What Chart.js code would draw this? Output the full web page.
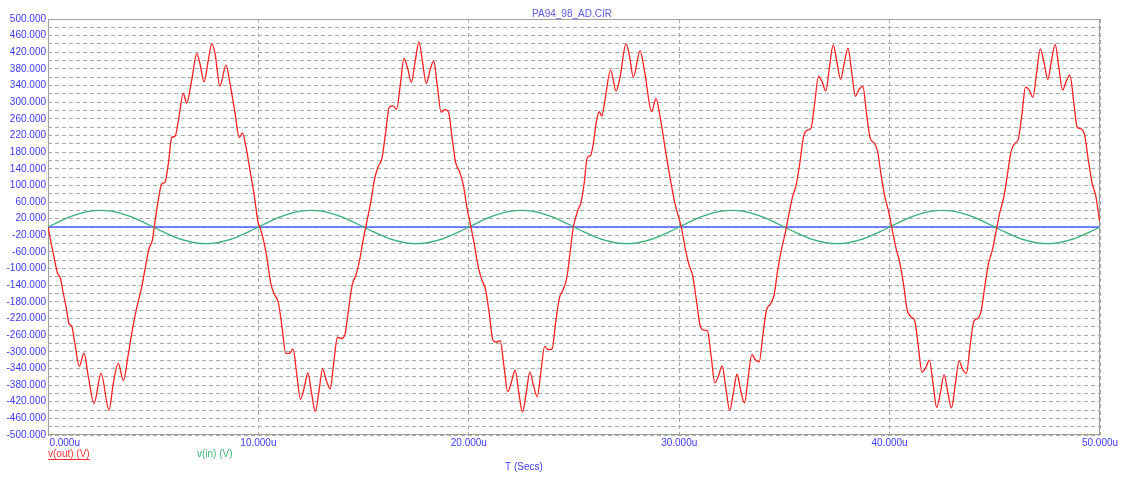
<!DOCTYPE html>
<html>
<head>
<meta charset="utf-8">
<title>PA94_98_AD.CIR</title>
<script src="https://cdn.jsdelivr.net/npm/chart.js@4.4.0/dist/chart.umd.min.js"></script>
<style>
  html, body { margin: 0; padding: 0; background: #fff; }
  canvas { display: block; }
</style>
</head>
<body>
<canvas id="chart" width="1124" height="477"></canvas>
<script>
// v(out): [time (us), volts], one array per 10us period
const vOut1 = [
  [0, 0], [0.25, -64], [0.46, -112], [0.57, -120], [0.73, -160], [0.89, -201], [1.00, -233], [1.12, -237],
  [1.28, -281], [1.49, -335], [1.71, -303], [1.92, -361], [2.19, -424], [2.52, -352], [2.90, -440], [3.10, -377],
  [3.34, -328], [3.58, -369], [3.82, -305], [4.06, -233], [4.26, -185], [4.45, -145], [4.69, -80], [4.80, -52],
  [4.96, -32], [5.05, 0], [5.24, 64], [5.40, 103], [5.56, 108], [5.72, 152], [5.88, 215], [6.04, 218],
  [6.20, 257], [6.43, 321], [6.59, 298], [6.83, 353], [7.07, 417], [7.22, 393], [7.42, 349], [7.62, 401],
  [7.78, 440], [7.94, 417], [8.17, 339], [8.46, 389], [8.65, 345], [8.89, 273], [9.09, 215], [9.24, 226],
  [9.44, 184], [9.60, 136], [9.79, 80], [9.99, 10]
];
const vOut2 = [
  [10.07, 0], [10.24, -31], [10.42, -79], [10.59, -136], [10.77, -163], [10.94, -180], [11.12, -239], [11.30, -304],
  [11.47, -304], [11.65, -293], [11.82, -353], [12.00, -414], [12.18, -386], [12.35, -351], [12.53, -400], [12.70, -444],
  [12.88, -394], [13.05, -341], [13.23, -369], [13.41, -389], [13.58, -326], [13.76, -265], [13.93, -268], [14.11, -259],
  [14.29, -196], [14.46, -139], [14.64, -115], [14.81, -80], [14.99, -28], [15.16, 14], [15.34, 60], [15.52, 115],
  [15.69, 145], [15.87, 165], [16.04, 224], [16.22, 288], [16.40, 291], [16.57, 283], [16.75, 344], [16.92, 405],
  [17.10, 380], [17.27, 348], [17.45, 398], [17.63, 445], [17.80, 397], [17.98, 345], [18.15, 376], [18.33, 399],
  [18.51, 337], [18.68, 276], [18.86, 282], [19.03, 277], [19.21, 213], [19.38, 154], [19.56, 133], [19.74, 101],
  [19.91, 47]
];
const vOut3 = [
  [20.09, 3], [20.26, -41], [20.44, -94], [20.62, -127], [20.79, -149], [20.97, -207], [21.14, -271], [21.32, -277],
  [21.49, -273], [21.67, -334], [21.85, -396], [22.02, -374], [22.20, -344], [22.37, -396], [22.55, -445], [22.73, -399],
  [22.90, -349], [23.08, -382], [23.25, -408], [23.43, -347], [23.60, -287], [23.78, -295], [23.96, -293], [24.13, -229],
  [24.31, -170], [24.48, -151], [24.66, -122], [24.84, -50], [24.97, 0], [25.21, 44], [25.32, 56], [25.48, 104],
  [25.63, 167], [25.79, 172], [25.92, 201], [26.08, 258], [26.21, 277], [26.32, 266], [26.47, 305], [26.74, 377],
  [27.00, 327], [27.19, 361], [27.47, 440], [27.63, 413], [27.82, 360], [28.14, 424], [28.37, 369], [28.69, 277],
  [28.90, 309], [29.09, 265], [29.40, 168], [29.80, 56]
];
const vOut4 = [
  [30.11, -2], [30.29, -52], [30.46, -90], [30.64, -117], [30.81, -173], [30.99, -236], [31.16, -248], [31.34, -249],
  [31.52, -311], [31.69, -374], [31.87, -358], [32.04, -334], [32.22, -389], [32.40, -441], [32.57, -400], [32.75, -354],
  [32.92, -392], [33.10, -423], [33.27, -365], [33.45, -306], [33.63, -320], [33.80, -324], [33.98, -259], [34.15, -199],
  [34.33, -186], [34.51, -163], [34.68, -104], [34.86, -54], [35.03, -17], [35.21, 30], [35.38, 71], [35.56, 101],
  [35.74, 156], [35.91, 217], [36.09, 233], [36.26, 237], [36.44, 298], [36.62, 362], [36.79, 349], [36.97, 327],
  [37.14, 384], [37.32, 438], [37.49, 399], [37.67, 355], [37.85, 395], [38.02, 430], [38.20, 372], [38.37, 314],
  [38.55, 331], [38.73, 338], [38.90, 274], [39.08, 213], [39.25, 203], [39.43, 182], [39.60, 123], [39.78, 71],
  [39.96, 36]
];
const vOut5 = [
  [40.13, -9], [40.31, -52], [40.48, -85], [40.66, -137], [40.83, -198], [41.01, -216], [41.19, -224], [41.36, -285],
  [41.54, -349], [41.71, -339], [41.89, -320], [42.07, -378], [42.24, -434], [42.42, -397], [42.59, -355], [42.77, -398],
  [42.94, -435], [43.12, -379], [43.30, -322], [43.47, -342], [43.65, -352], [43.82, -288], [44.00, -227], [44.18, -220],
  [44.35, -202], [44.53, -141], [44.70, -88], [44.88, -56], [45.05, -13], [45.23, 33], [45.41, 68], [45.58, 119],
  [45.76, 179], [45.93, 200], [46.11, 210], [46.29, 271], [46.46, 336], [46.64, 329], [46.81, 312], [46.99, 371],
  [47.16, 428], [47.34, 395], [47.52, 355], [47.69, 399], [47.87, 439], [48.04, 385], [48.22, 329], [48.40, 351],
  [48.57, 365], [48.75, 301], [48.92, 239], [49.10, 236], [49.27, 221], [49.45, 159], [49.63, 104], [49.80, 75],
  [49.98, 14]
];

// v(in): sampled every 0.5us
const vInTime = [
  0, 0.5, 1, 1.5, 2, 2.5, 3, 3.5, 4, 4.5, 5, 5.5, 6, 6.5, 7, 7.5, 8, 8.5, 9, 9.5,
  10, 10.5, 11, 11.5, 12, 12.5, 13, 13.5, 14, 14.5, 15, 15.5, 16, 16.5, 17, 17.5, 18, 18.5, 19, 19.5,
  20, 20.5, 21, 21.5, 22, 22.5, 23, 23.5, 24, 24.5, 25, 25.5, 26, 26.5, 27, 27.5, 28, 28.5, 29, 29.5,
  30, 30.5, 31, 31.5, 32, 32.5, 33, 33.5, 34, 34.5, 35, 35.5, 36, 36.5, 37, 37.5, 38, 38.5, 39, 39.5,
  40, 40.5, 41, 41.5, 42, 42.5, 43, 43.5, 44, 44.5, 45, 45.5, 46, 46.5, 47, 47.5, 48, 48.5, 49, 49.5,
  50
];
const vInVolts = [
  0, 12.4, 23.5, 32.4, 38, 40, 38, 32.4, 23.5, 12.4, 0, -12.4, -23.5, -32.4, -38, -40, -38, -32.4, -23.5, -12.4,
  0, 12.4, 23.5, 32.4, 38, 40, 38, 32.4, 23.5, 12.4, 0, -12.4, -23.5, -32.4, -38, -40, -38, -32.4, -23.5, -12.4,
  0, 12.4, 23.5, 32.4, 38, 40, 38, 32.4, 23.5, 12.4, 0, -12.4, -23.5, -32.4, -38, -40, -38, -32.4, -23.5, -12.4,
  0, 12.4, 23.5, 32.4, 38, 40, 38, 32.4, 23.5, 12.4, 0, -12.4, -23.5, -32.4, -38, -40, -38, -32.4, -23.5, -12.4,
  0, 12.4, 23.5, 32.4, 38, 40, 38, 32.4, 23.5, 12.4, 0, -12.4, -23.5, -32.4, -38, -40, -38, -32.4, -23.5, -12.4,
  0
];

// zero reference trace
const refTime = [0, 50];
const refVolts = [0, 0];

const timeTicks = [0, 10, 20, 30, 40, 50];

const FONT = 'Arial, "Liberation Sans", sans-serif';
const AXIS_BLUE = '#3b3bff';
const GRID = '#a8a8a8';

const vOut = [].concat(vOut1, vOut2, vOut3, vOut4, vOut5).map(p => ({ x: p[0], y: p[1] }));
const vIn = vInTime.map((t, i) => ({ x: t, y: vInVolts[i] }));
const ref = refTime.map((t, i) => ({ x: t, y: refVolts[i] }));

// frame round the plot plus the title, trace names and axis name
const annotate = {
  id: 'annotate',
  beforeDatasetsDraw(chart) {
    const { ctx, chartArea: a } = chart;
    ctx.save();
    ctx.strokeStyle = '#a0a0a0';
    ctx.lineWidth = 1;
    ctx.strokeRect(a.left + 0.5, a.top + 0.5, a.width - 1, a.height - 1);
    ctx.restore();
  },
  afterDraw(chart) {
    const { ctx, chartArea: a } = chart;
    ctx.save();
    ctx.font = '10px ' + FONT;
    ctx.textBaseline = 'alphabetic';

    ctx.textAlign = 'center';
    ctx.fillStyle = '#5a5ae6';
    ctx.fillText('PA94_98_AD.CIR', (a.left + a.right) / 2 - 2, a.top - 2.5);

    ctx.textAlign = 'left';
    ctx.fillStyle = '#ff3333';
    ctx.fillText('v(out) (V)', a.left, a.bottom + 21.5);
    const w = ctx.measureText('v(out) (V)').width;
    ctx.fillRect(a.left, a.bottom + 24, w, 1);

    ctx.fillStyle = '#3cb878';
    ctx.fillText('v(in) (V)', a.left + 149, a.bottom + 21.5);

    ctx.fillStyle = AXIS_BLUE;
    ctx.fillText('T (Secs)', a.left + 457, a.bottom + 35);
    ctx.restore();
  }
};

new Chart(document.getElementById('chart'), {
  type: 'line',
  data: {
    datasets: [
      {
        label: 'v(out) (V)',
        data: vOut,
        borderColor: '#ff2020',
        borderWidth: 1.3,
        pointRadius: 0,
        cubicInterpolationMode: 'monotone',
        order: 1
      },
      {
        label: 'v(in) (V)',
        data: vIn,
        borderColor: '#36b27a',
        borderWidth: 1.3,
        pointRadius: 0,
        cubicInterpolationMode: 'monotone',
        order: 2
      },
      {
        label: 'ref',
        data: ref,
        borderColor: '#4b5cff',
        borderWidth: 1.6,
        pointRadius: 0,
        order: 3
      }
    ]
  },
  options: {
    responsive: false,
    animation: false,
    events: [],
    layout: { padding: { top: 19, right: 24, left: 0, bottom: 0 } },
    plugins: {
      legend: { display: false },
      tooltip: { enabled: false },
      title: { display: false }
    },
    scales: {
      x: {
        type: 'linear',
        min: 0,
        max: 50,
        afterBuildTicks: (s) => { s.ticks = timeTicks.map(v => ({ value: v })); },
        afterFit: (s) => { s.height = 42; },
        ticks: {
          autoSkip: false,
          maxRotation: 0,
          padding: 2,
          color: AXIS_BLUE,
          font: { family: FONT, size: 10 },
          // first label sits inside the plot, the rest are centred on their tick
          callback: (v) => v === 0 ? ' '.repeat(12) + '0.000u' : v.toFixed(3) + 'u'
        },
        grid: { color: GRID, lineWidth: 1, drawTicks: false },
        border: { display: false, dash: [4, 3] }
      },
      y: {
        min: -500,
        max: 500,
        afterFit: (s) => { s.width = 48; },
        ticks: {
          stepSize: 20,
          autoSkip: false,
          padding: 2,
          color: AXIS_BLUE,
          font: { family: FONT, size: 10 },
          callback: (v) => ((Math.round(v) + 500) % 40 === 0 ? v.toFixed(3) : '')
        },
        grid: { color: GRID, lineWidth: 1, drawTicks: false },
        border: { display: false, dash: [4, 3] }
      }
    }
  },
  plugins: [annotate]
});
</script>
</body>
</html>
